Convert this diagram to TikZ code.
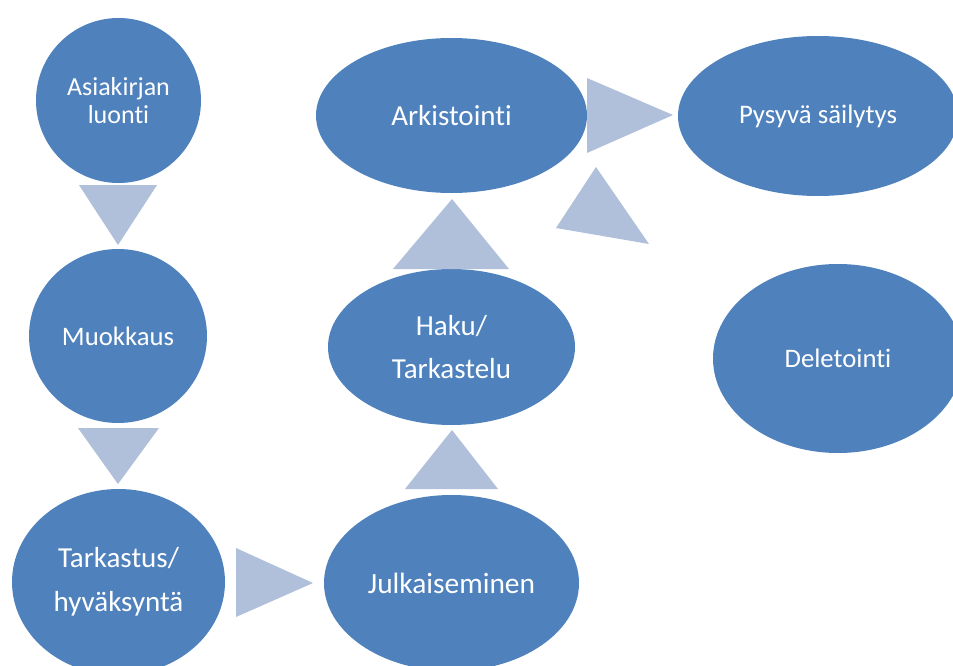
\documentclass[tikz,border=0pt]{standalone}
\usepackage{fontspec}
\setmainfont{Carlito}[Ligatures=NoCommon]
\usetikzlibrary{shapes.geometric}

\definecolor{stageblue}{HTML}{4F81BD}
\definecolor{flowgrey}{HTML}{B0C0DA}

\tikzset{
  stage/.style={ellipse, fill=stageblue, draw=none, text=white, inner sep=0pt, align=center},
  flowtip/.style={fill=flowgrey, draw=none}
}

\begin{document}
\begin{tikzpicture}[x=1pt, y=-1pt]
  \useasboundingbox (0,0) rectangle (953,666);

  % stages of the document life cycle
  \node[stage, minimum width=165pt, minimum height=165pt, font=\fontsize{26}{28.3}\selectfont]
    (luonti) at (118.5,100.5) {Asiakirjan\\luonti};
  \node[stage, minimum width=178pt, minimum height=174pt, font=\fontsize{26.7}{30}\selectfont]
    (muokkaus) at (118,336) {Muokkaus};
  \node[stage, minimum width=213pt, minimum height=186pt, font=\fontsize{29}{43.5}\selectfont]
    (tarkastus) at (118.5,582) {Tarkastus/\\hyväksyntä};
  \node[stage, minimum width=255pt, minimum height=176pt, font=\fontsize{29.4}{32}\selectfont]
    (julkaisu) at (451.5,583) {Julkaiseminen};
  \node[stage, minimum width=247pt, minimum height=156pt, font=\fontsize{29}{42.5}\selectfont]
    (haku) at (451.5,347) {Haku/\\Tarkastelu};
  \node[stage, minimum width=271pt, minimum height=155pt, font=\fontsize{29}{32}\selectfont]
    (arkisto) at (451.5,115.5) {Arkistointi};
  \node[stage, minimum width=280pt, minimum height=160pt, font=\fontsize{26.8}{30}\selectfont]
    (pysyva) at (818,116) {Pysyvä säilytys};
  \node[stage, minimum width=250pt, minimum height=189pt, font=\fontsize{26.7}{30}\selectfont]
    (deletointi) at (838,358.5) {Deletointi};

  % triangular flow markers between the stages
  \fill[flowtip] (79,185) -- (157,185) -- (118,245) -- cycle;
  \fill[flowtip] (78,428) -- (159,428) -- (118,484) -- cycle;
  \fill[flowtip] (236,548) -- (236,617) -- (313,583) -- cycle;
  \fill[flowtip] (405,489) -- (498,489) -- (452,430) -- cycle;
  \fill[flowtip] (393,269) -- (509,269) -- (452,199) -- cycle;
  \fill[flowtip] (587,78) -- (587,153) -- (673,115) -- cycle;
  \fill[flowtip] (596,167) -- (556,228) -- (649,244) -- cycle;
\end{tikzpicture}
\end{document}
